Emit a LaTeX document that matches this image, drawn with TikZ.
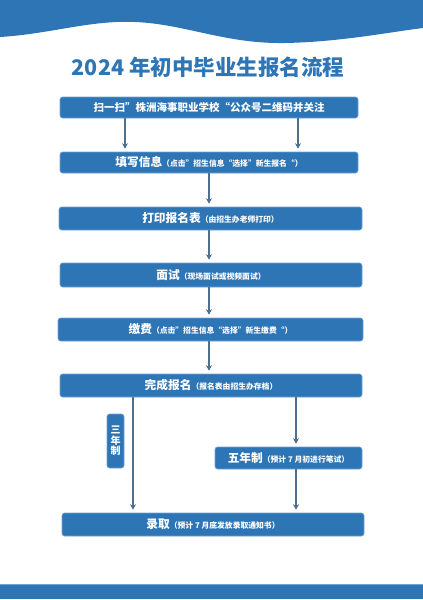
\documentclass[tikz,border=0pt]{standalone}
\usepackage{fontspec}
\setmainfont{Noto Sans CJK SC}
\usetikzlibrary{arrows.meta}
\definecolor{mainblue}{HTML}{2E75B6}
\definecolor{edgeblue}{HTML}{6FA3D6}
\definecolor{arrowcol}{HTML}{4F6F8F}
\newcommand{\bigtxt}[1]{{\fontsize{11.7}{13}\selectfont\bfseries #1}}
\newcommand{\smtxt}[1]{{\fontsize{7.8}{9}\selectfont\bfseries #1}}
\begin{document}
\begin{tikzpicture}[x=1pt,y=-1pt,
  stepbox/.style={draw=edgeblue,line width=0.6pt,fill=mainblue,rounded corners=2.5pt,text=white,inner sep=0pt,align=center},
  arr/.style={draw=arrowcol,line width=1.2pt,-{Stealth[length=5.5pt,width=6pt]},shorten >=3pt}]
\useasboundingbox (0,0) rectangle (423,600);
% top wave
\fill[mainblue] (0,0) -- (0,37) .. controls (50,34) and (90,20) .. (135,22)
  .. controls (185,24) and (225,44) .. (285,43)
  .. controls (340,42) and (390,32) .. (423,28) -- (423,0) -- cycle;
% bottom bar
\fill[mainblue] (0,584) rectangle (423,599);
\draw[edgeblue,line width=0.6pt] (0,584) -- (423,584);
% title
\node[text=mainblue,font={\fontsize{21.5}{24}\selectfont\bfseries}] (title) at (208,67) {2024 年初中毕业生报名流程};
% boxes
\node[stepbox,minimum width=298pt,minimum height=21pt,font={\fontsize{10.5}{12}\selectfont\bfseries}] (b1) at (209,107.5)
  {扫一扫”株洲海事职业学校“公众号二维码并关注};
\node[stepbox,minimum width=298pt,minimum height=21pt] (b2) at (209,162.5)
  {\bigtxt{填写信息}\smtxt{（点击”招生信息“选择”新生报名“）}};
\node[stepbox,minimum width=303pt,minimum height=23pt] (b3) at (210.5,218.5)
  {\bigtxt{打印报名表}\smtxt{（由招生办老师打印）}};
\node[stepbox,minimum width=302pt,minimum height=24pt] (b4) at (211,275)
  {\bigtxt{面试}\smtxt{（现场面试或视频面试）}};
\node[stepbox,minimum width=305pt,minimum height=23pt] (b5) at (210.5,329.5)
  {\bigtxt{缴费}\smtxt{（点击”招生信息“选择”新生缴费“）}};
\node[stepbox,minimum width=302pt,minimum height=23pt] (b6) at (211,385.5)
  {\bigtxt{完成报名}\smtxt{（报名表由招生办存档）}};
\node[stepbox,minimum width=147pt,minimum height=22pt] (b7) at (288.5,458)
  {\bigtxt{五年制}\smtxt{（预计 7 月初进行笔试）}};
\node[stepbox,minimum width=302pt,minimum height=23pt] (b8) at (213,524.5)
  {\bigtxt{录取}\smtxt{（预计 7 月底发放录取通知书）}};
\node[stepbox,minimum width=17pt,minimum height=54pt,font={\fontsize{10}{10.5}\selectfont\bfseries}] (b3y) at (115.5,441)
  {三\\年\\制};
% x positions
\coordinate (xl) at (125,0);
\coordinate (xr) at (298,0);
\coordinate (xm) at (209,0);
\coordinate (xa) at (133,0);
\coordinate (xb) at (296,0);
% arrows
\draw[arr] (b1.south -| xl) -- (b2.north -| xl);
\draw[arr] (b1.south -| xr) -- (b2.north -| xr);
\draw[arr] (b2.south -| xm) -- (b3.north -| xm);
\draw[arr] (b3.south -| xm) -- (b4.north -| xm);
\draw[arr] (b4.south -| xm) -- (b5.north -| xm);
\draw[arr] (b5.south -| xm) -- (b6.north -| xm);
\draw[arr] (b6.south -| xa) -- (b8.north -| xa);
\draw[arr] (b6.south -| xb) -- (b7.north -| xb);
\draw[arr] (b7.south -| xb) -- (b8.north -| xb);
\end{tikzpicture}
\end{document}
